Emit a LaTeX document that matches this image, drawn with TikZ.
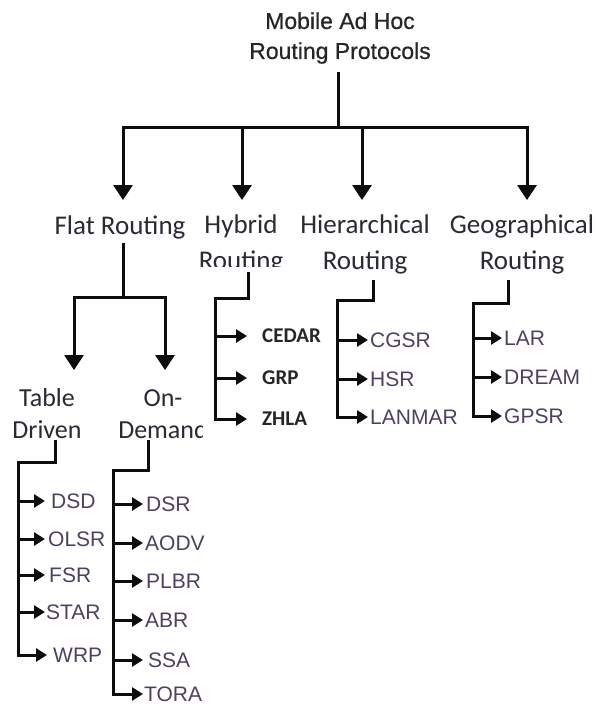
\documentclass[tikz,border=0pt]{standalone}
\usepackage{fontspec}
\setmainfont{Liberation Sans}
\newfontfamily\catfont{Carlito}
\newfontfamily\titlefont[FakeBold=0.6]{Liberation Sans}
\usetikzlibrary{arrows.meta}
\definecolor{titlegray}{HTML}{262626}
\definecolor{catgray}{HTML}{2A2A33}
\definecolor{leafpurple}{HTML}{4E4062}
\definecolor{leafdark}{HTML}{262626}
\definecolor{linecol}{HTML}{0D0D0D}
\tikzset{
  conn/.style={line width=3pt, draw=linecol, line join=miter},
  bigarrow/.style={conn, -{Triangle[length=15pt,width=19pt]}},
  smallarrow/.style={conn, -{Triangle[length=11pt,width=13pt]}},
  titlelbl/.style={font=\titlefont\fontsize{23}{30}\selectfont, text=titlegray, align=center, inner sep=0pt},
  catlbl/.style={font=\catfont\fontsize{27}{36}\selectfont, text=catgray, align=center, inner sep=0pt},
  sublbl/.style={font=\catfont\fontsize{26}{32}\selectfont, text=catgray, align=center, inner sep=0pt},
  leaf/.style={font=\fontsize{21}{24}\selectfont, text=leafpurple, anchor=west, inner sep=0pt},
  leafb/.style={font=\catfont\bfseries\fontsize{21}{24}\selectfont, text=leafdark, anchor=west, inner sep=0pt}
}
\begin{document}
\begin{tikzpicture}[x=1pt,y=-1pt]
\fill[white] (0,0) rectangle (598,705);
\useasboundingbox (0,0) rectangle (598,705);

% title
\node[titlelbl] (title) at (340,38) {Mobile Ad Hoc\\Routing Protocols};
\coordinate (t0) at (338,72);
\coordinate (t1) at (338,127);
\coordinate (a1) at (123,200);
\coordinate (a2) at (242,200);
\coordinate (a3) at (362,200);
\coordinate (a4) at (527,200);
\draw[conn] (t0) -- (t1);
\draw[bigarrow] (t1) -| (a1);
\draw[bigarrow] (t1) -| (a2);
\draw[bigarrow] (t1) -| (a3);
\draw[bigarrow] (t1) -| (a4);

% categories
\node[catlbl] (flat) at (120,227) {Flat Routing};
\begin{scope}
  \clip (180,200) rectangle (300,266.5);
  \node[catlbl] (hybrid) at (241,244) {Hybrid\\Routing};
\end{scope}
\node[catlbl] (hier) at (365,244) {Hierarchical\\Routing};
\node[catlbl] (geo) at (522,244) {Geographical\\Routing};

% flat fork
\coordinate (f0) at (123,243);
\coordinate (f1) at (123,297);
\coordinate (ft) at (74,370);
\coordinate (fo) at (165,370);
\draw[conn] (f0) -- (f1);
\draw[bigarrow] (f1) -| (ft);
\draw[bigarrow] (f1) -| (fo);

\node[sublbl] (table) at (47,414) {Table\\Driven};
\begin{scope}
  \clip (100,380) rectangle (202.5,450);
  \node[sublbl] (ondemand) at (163,414) {On-\\Demand};
\end{scope}

% hybrid leaves
\coordinate (hs) at (248,272);
\coordinate (hb) at (215,298);
\node[leafb] (cedar) at (262,336) {CEDAR};
\node[leafb] (grp) at (262,378) {GRP};
\node[leafb] (zhla) at (262,419) {ZHLA};
\draw[smallarrow] (hs) |- (hb) |- ([xshift=-15pt]zhla.west);
\draw[smallarrow] (hb |- cedar.west) -- ([xshift=-15pt]cedar.west);
\draw[smallarrow] (hb |- grp.west) -- ([xshift=-15pt]grp.west);

% hierarchical leaves
\coordinate (rs) at (373,280);
\coordinate (rb) at (337,300);
\node[leaf] (cgsr) at (370,340) {CGSR};
\node[leaf] (hsr) at (370,379) {HSR};
\node[leaf] (lanmar) at (370,417) {LANMAR};
\draw[smallarrow] (rs) |- (rb) |- ([xshift=-2pt]lanmar.west);
\draw[smallarrow] (rb |- cgsr.west) -- ([xshift=-2pt]cgsr.west);
\draw[smallarrow] (rb |- hsr.west) -- ([xshift=-2pt]hsr.west);

% geographical leaves
\coordinate (gs) at (508,280);
\coordinate (gb) at (473,303);
\node[leaf] (lar) at (504,338) {LAR};
\node[leaf] (dream) at (504,377) {DREAM};
\node[leaf] (gpsr) at (504,416) {GPSR};
\draw[smallarrow] (gs) |- (gb) |- ([xshift=-2pt]gpsr.west);
\draw[smallarrow] (gb |- lar.west) -- ([xshift=-2pt]lar.west);
\draw[smallarrow] (gb |- dream.west) -- ([xshift=-2pt]dream.west);

% table driven leaves
\coordinate (ts) at (55,440);
\coordinate (tb) at (18,462);
\node[leaf] (dsd) at (51,501) {DSD};
\node[leaf] (olsr) at (48,539) {OLSR};
\node[leaf] (fsr) at (49,575) {FSR};
\node[leaf] (star) at (46,612) {STAR};
\node[leaf] (wrp) at (53,655) {WRP};
\draw[smallarrow] (ts) |- (tb) |- ([xshift=-6pt]wrp.west);
\draw[smallarrow] (tb |- dsd.west) -- ([xshift=-6pt]dsd.west);
\draw[smallarrow] (tb |- olsr.west) -- ([xshift=-3pt]olsr.west);
\draw[smallarrow] (tb |- fsr.west) -- ([xshift=-4pt]fsr.west);
\draw[smallarrow] (tb |- star.west) -- ([xshift=-1pt]star.west);

% on-demand leaves
\coordinate (os) at (148,440);
\coordinate (ob) at (113,470);
\node[leaf] (dsr) at (146,504) {DSR};
\node[leaf] (aodv) at (145,543) {AODV};
\node[leaf] (plbr) at (146,581) {PLBR};
\node[leaf] (abr) at (145,620) {ABR};
\node[leaf] (ssa) at (148,660) {SSA};
\node[leaf] (tora) at (144,694) {TORA};
\draw[smallarrow] (os) |- (ob) |- ([xshift=-1pt]tora.west);
\draw[smallarrow] (ob |- dsr.west) -- ([xshift=-3pt]dsr.west);
\draw[smallarrow] (ob |- aodv.west) -- ([xshift=-2pt]aodv.west);
\draw[smallarrow] (ob |- plbr.west) -- ([xshift=-3pt]plbr.west);
\draw[smallarrow] (ob |- abr.west) -- ([xshift=-2pt]abr.west);
\draw[smallarrow] (ob |- ssa.west) -- ([xshift=-5pt]ssa.west);
\end{tikzpicture}
\end{document}
